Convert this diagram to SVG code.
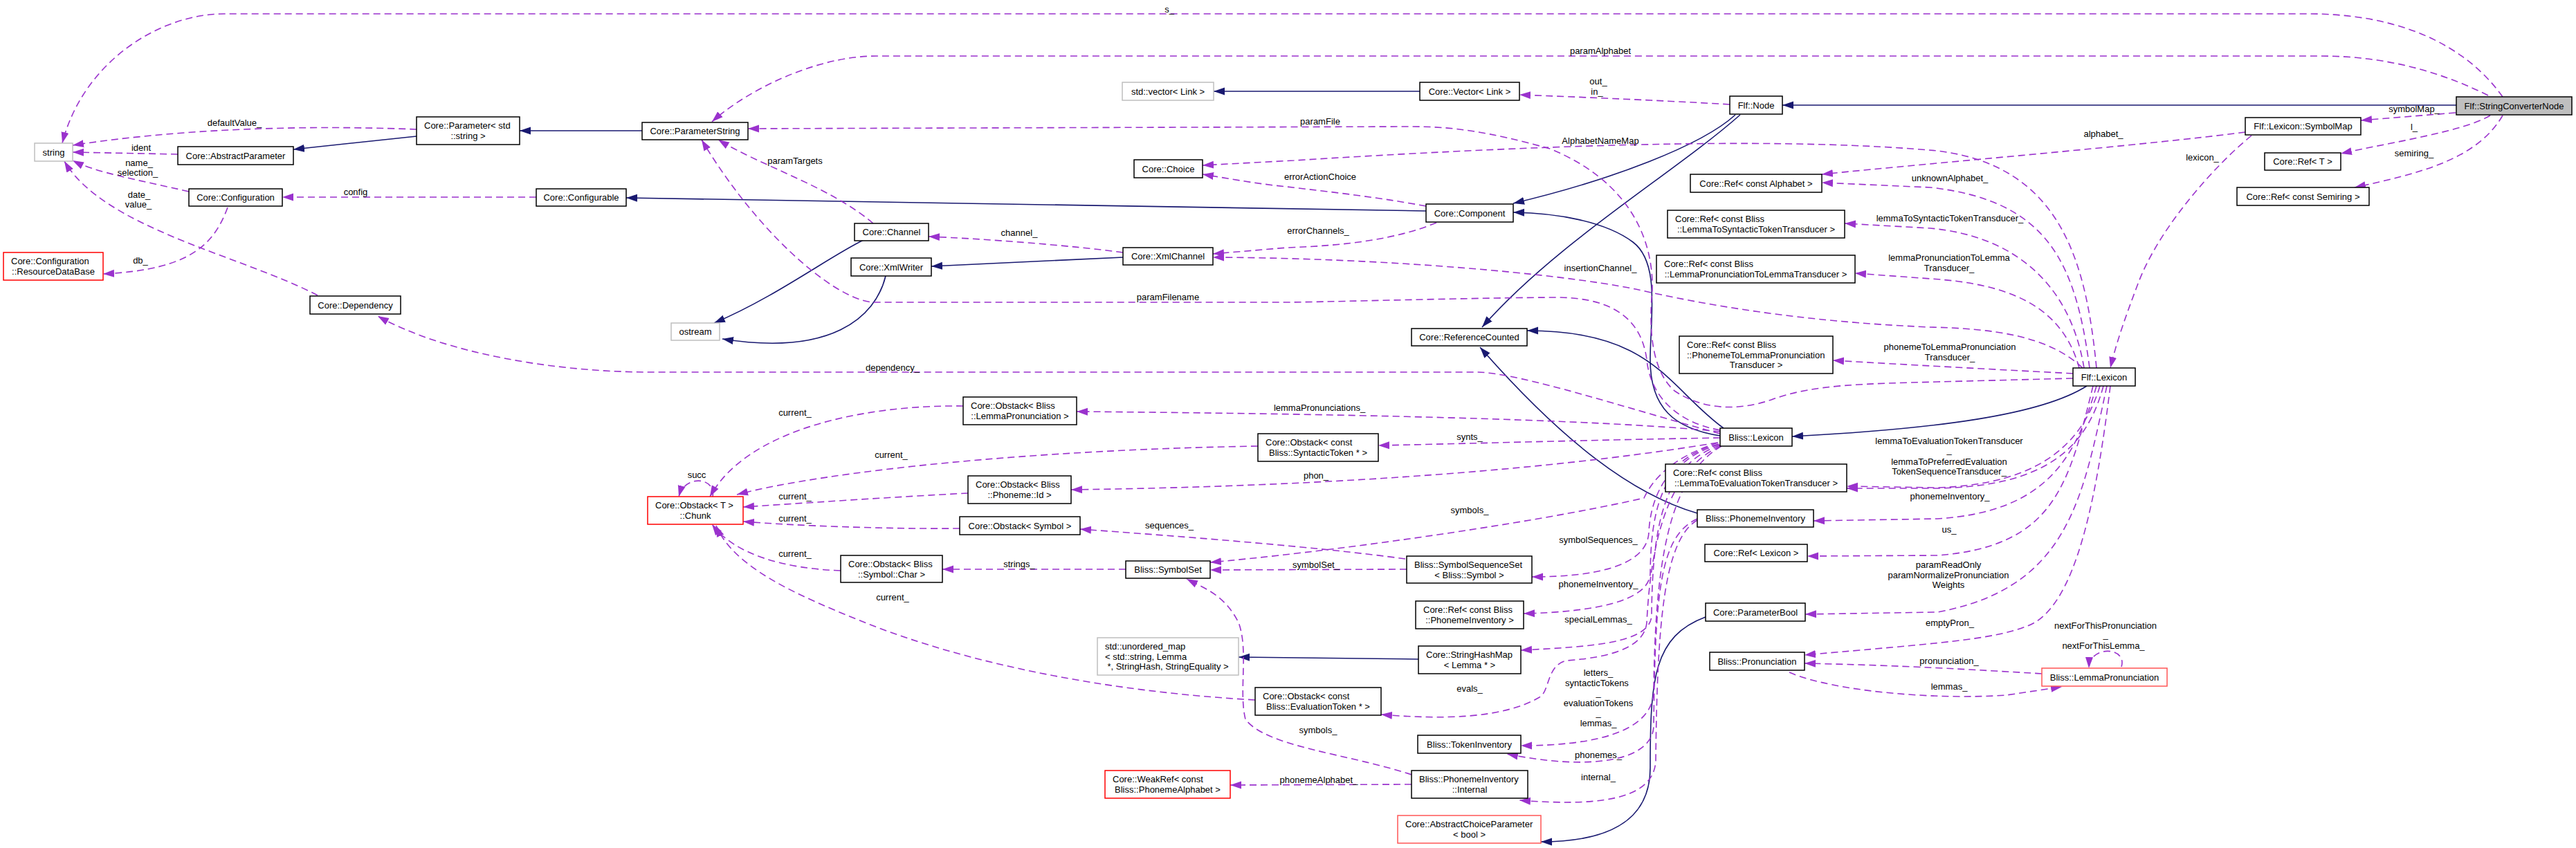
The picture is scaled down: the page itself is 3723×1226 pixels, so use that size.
<svg xmlns="http://www.w3.org/2000/svg" width="3723" height="1226" viewBox="0 0 3723 1226">
<style>
text{font-family:"Liberation Sans",Arial,sans-serif;font-size:13px;fill:#000}
.c{text-anchor:middle}
.nd rect{fill:#fff;stroke:#000;stroke-width:1.5}
.ext rect{stroke:#bfbfbf}
.red rect{stroke:#ff0000}
.red2 rect{stroke:#ff5555}
.cur rect{fill:#bfbfbf}
.e{fill:none;stroke:#9a32cd;stroke-width:1.6;stroke-dasharray:10,6;marker-end:url(#ap)}
.i{fill:none;stroke:#191970;stroke-width:1.6;marker-end:url(#an)}
</style>
<defs>
<marker id="ap" markerUnits="userSpaceOnUse" markerWidth="16" markerHeight="12" refX="16" refY="6" orient="auto" viewBox="0 0 16 12"><path d="M0,0.5 L16,6 L0,11.5 z" fill="#9a32cd"/></marker>
<marker id="an" markerUnits="userSpaceOnUse" markerWidth="16" markerHeight="12" refX="16" refY="6" orient="auto" viewBox="0 0 16 12"><path d="M0,0.5 L16,6 L0,11.5 z" fill="#191970"/></marker>
</defs>
<rect width="3723" height="1226" fill="#fff"/>
<g id="edges">
<!-- inheritance -->
<path class="i" d="M928,189 L751,189"/>
<path class="i" d="M602,197 L424,216"/>
<path class="i" d="M2061,305 L905,286"/>
<path class="i" d="M2052,132 L1754,132"/>
<path class="i" d="M1623,372 L1346,385"/>
<path class="i" d="M1248,347 C1200,370 1120,430 1032,467"/>
<path class="i" d="M1280,399 C1265,460 1200,515 1044,490"/>
<path class="i" d="M3550,152 L2576,152"/>
<path class="i" d="M2508,166 C2460,210 2330,260 2187,294"/>
<path class="i" d="M2515,166 C2420,250 2250,350 2142,473"/>
<path class="i" d="M2486,630 C2420,620 2385,590 2385,520 C2385,460 2400,380 2360,350 C2320,320 2250,308 2187,307"/>
<path class="i" d="M2491,619 C2410,560 2390,478 2207,478"/>
<path class="i" d="M2453,742 C2360,715 2260,640 2139,502"/>
<path class="i" d="M3016,558 C2950,600 2800,620 2590,631"/>
<path class="i" d="M2050,953 L1790,950"/>
<path class="i" d="M2465,892 C2390,920 2385,980 2385,1110 C2385,1190 2320,1217 2227,1217"/>
<!-- usage -->
<path class="e" d="M3617,140 C3560,60 3460,20 3337,20 L324,20 C230,20 120,90 90,207"/>
<path class="e" d="M3596,138 C3520,100 3440,81 3355,81 L1266,81 C1180,81 1080,130 1029,176"/>
<path class="e" d="M3549,163 L3412,174"/>
<path class="e" d="M3599,167 C3560,190 3460,205 3383,222"/>
<path class="e" d="M3617,167 C3580,230 3500,250 3403,271"/>
<path class="e" d="M3254,196 C3200,240 3120,330 3090,410 C3075,450 3060,490 3050,532"/>
<path class="e" d="M3245,191 C3100,210 2800,235 2633,252"/>
<path class="e" d="M3020,532 C3000,380 2960,290 2790,271 L2633,264"/>
<path class="e" d="M3030,532 C3015,380 2980,240 2800,218 C2600,200 2300,205 1870,232 L1738,239"/>
<path class="e" d="M3012,532 C2990,400 2900,340 2790,330 L2666,323"/>
<path class="e" d="M3005,532 C2980,440 2900,410 2790,403 L2681,395"/>
<path class="e" d="M2996,540 C2900,535 2750,527 2649,521"/>
<path class="e" d="M3010,532 C2960,485 2880,475 2790,473 C2600,465 2460,440 2364,418 C2250,395 2000,373 1753,372"/>
<path class="e" d="M2076,322 C2020,345 1950,355 1860,358 L1753,367"/>
<path class="e" d="M2061,298 C1980,283 1900,275 1860,270 C1810,265 1770,257 1738,252"/>
<path class="e" d="M2996,547 L2800,552 C2700,555 2620,555 2560,578 C2510,595 2460,592 2420,565 C2380,530 2385,450 2388,420 C2390,340 2350,260 2240,215 C2150,190 2100,183 2040,183 L1081,186"/>
<path class="e" d="M1262,323 C1200,270 1100,240 1038,202"/>
<path class="e" d="M2486,622 C2420,610 2385,570 2380,520 C2372,460 2330,432 2256,430 C2150,430 1900,437 1860,437 L1260,437 C1200,430 1090,330 1014,202"/>
<path class="e" d="M2486,627 C2350,590 2200,540 2136,538 L940,538 C800,538 640,510 546,457"/>
<path class="e" d="M459,427 C350,370 150,330 93,233"/>
<path class="e" d="M273,277 C200,260 140,250 105,232"/>
<path class="e" d="M257,223 L105,220"/>
<path class="e" d="M602,187 C500,183 300,180 105,210"/>
<path class="e" d="M329,300 C310,350 280,390 149,396"/>
<path class="e" d="M775,285 L408,285"/>
<path class="e" d="M1623,365 C1550,355 1420,345 1342,342"/>
<path class="e" d="M2500,151 C2400,145 2250,139 2196,137"/>
<path class="e" d="M2486,624 C2300,605 1900,598 1556,595"/>
<path class="e" d="M2486,633 C2300,636 2100,642 1992,644"/>
<path class="e" d="M2482,640 C2300,670 2000,702 1548,708"/>
<path class="e" d="M1392,587 C1250,585 1080,620 1026,718"/>
<path class="e" d="M1818,645 C1500,650 1200,680 1065,715"/>
<path class="e" d="M1399,713 C1300,718 1150,728 1074,733"/>
<path class="e" d="M1387,764 C1280,765 1150,760 1074,754"/>
<path class="e" d="M1215,825 C1130,822 1060,800 1029,758"/>
<path class="e" d="M1814,1012 C1600,1000 1400,960 1250,900 C1150,860 1060,820 1035,760"/>
<path class="e" d="M1030,718 C1035,690 990,685 981,718"/>
<path class="e" d="M2031,808 C1900,790 1700,775 1561,765"/>
<path class="e" d="M1627,823 L1362,823"/>
<path class="e" d="M2483,640 C2420,660 2390,690 2376,720 C2200,760 1900,800 1749,813"/>
<path class="e" d="M2033,823 L1749,824"/>
<path class="e" d="M2484,642 C2410,660 2385,720 2383,770 C2380,820 2300,834 2214,834"/>
<path class="e" d="M2485,643 C2400,665 2386,740 2385,830 C2382,870 2300,885 2202,887"/>
<path class="e" d="M2486,644 C2405,670 2388,760 2387,890 C2385,930 2300,935 2198,940"/>
<path class="e" d="M2487,645 C2405,680 2385,800 2380,900 C2376,945 2300,952 2265,955 C2235,960 2240,1000 2225,1008 C2170,1040 2080,1040 1996,1033"/>
<path class="e" d="M2488,645 C2410,690 2392,820 2390,1000 C2388,1060 2300,1078 2198,1078"/>
<path class="e" d="M2453,750 C2400,775 2392,850 2390,1050 C2388,1100 2300,1115 2178,1090"/>
<path class="e" d="M2453,752 C2405,780 2395,900 2393,1100 C2390,1160 2300,1165 2196,1157"/>
<path class="e" d="M2040,1120 C1950,1090 1830,1080 1800,1040 C1790,1000 1805,940 1790,900 C1770,860 1740,850 1715,837"/>
<path class="e" d="M2040,1134 L1778,1135"/>
<path class="e" d="M3035,558 C3010,640 2950,700 2800,705 L2669,703"/>
<path class="e" d="M3040,558 C3015,650 2955,703 2800,706 L2669,706"/>
<path class="e" d="M3030,558 C3000,660 2960,740 2800,750 L2621,753"/>
<path class="e" d="M3025,558 C2990,700 2970,790 2800,803 L2612,804"/>
<path class="e" d="M3045,558 C3010,720 2990,850 2800,885 L2609,888"/>
<path class="e" d="M3050,558 C3030,720 3000,880 2930,905 C2880,925 2800,930 2608,947"/>
<path class="e" d="M2951,974 C2850,968 2750,962 2608,959"/>
<path class="e" d="M2586,972 C2650,1000 2800,1012 2900,1005 L2980,993"/>
<path class="e" d="M3066,964 C3075,935 3020,932 3019,966"/>
</g>
<g id="edge-labels">
<text class="c" x="1690" y="18">s_</text>
<text class="c" x="2313" y="78">paramAlphabet</text>
<text class="c" x="3489" y="162">symbolMap_</text>
<text class="c" x="3489" y="188">l_</text>
<text class="c" x="3489" y="226">semiring_</text>
<text class="c" x="3183" y="232">lexicon_</text>
<text class="c" x="3040" y="198">alphabet_</text>
<text class="c" x="2818" y="262">unknownAlphabet_</text>
<text class="c" x="2313" y="208">AlphabetNameMap</text>
<text class="c" x="2818" y="320">lemmaToSyntacticTokenTransducer_</text>
<text class="c" x="2817" y="377">lemmaPronunciationToLemma</text>
<text class="c" x="2817" y="392">Transducer_</text>
<text class="c" x="2818" y="506">phonemeToLemmaPronunciation</text>
<text class="c" x="2818" y="521">Transducer_</text>
<text class="c" x="2313" y="392">insertionChannel_</text>
<text class="c" x="1905" y="338">errorChannels_</text>
<text class="c" x="1908" y="260">errorActionChoice</text>
<text class="c" x="1908" y="180">paramFile</text>
<text class="c" x="1149" y="237">paramTargets</text>
<text class="c" x="1688" y="434">paramFilename</text>
<text class="c" x="1290" y="536">dependency_</text>
<text class="c" x="201" y="286">date_</text>
<text class="c" x="200" y="300">value_</text>
<text class="c" x="201" y="240">name_</text>
<text class="c" x="199" y="254">selection_</text>
<text class="c" x="204" y="218">ident</text>
<text class="c" x="339" y="182">defaultValue_</text>
<text class="c" x="203" y="381">db_</text>
<text class="c" x="514" y="282">config</text>
<text class="c" x="1473" y="341">channel_</text>
<text class="c" x="2310" y="122">out_</text>
<text class="c" x="2308" y="137">in_</text>
<text class="c" x="1907" y="594">lemmaPronunciations_</text>
<text class="c" x="2124" y="636">synts_</text>
<text class="c" x="1902" y="692">phon_</text>
<text class="c" x="1149" y="601">current_</text>
<text class="c" x="1288" y="662">current_</text>
<text class="c" x="1149" y="722">current_</text>
<text class="c" x="1149" y="754">current_</text>
<text class="c" x="1149" y="805">current_</text>
<text class="c" x="1290" y="868">current_</text>
<text class="c" x="1007" y="691">succ</text>
<text class="c" x="1690" y="764">sequences_</text>
<text class="c" x="1473" y="820">strings_</text>
<text class="c" x="2124" y="742">symbols_</text>
<text class="c" x="1902" y="821">symbolSet_</text>
<text class="c" x="2310" y="785">symbolSequences_</text>
<text class="c" x="2310" y="849">phonemeInventory_</text>
<text class="c" x="2310" y="900">specialLemmas_</text>
<text class="c" x="2124" y="1000">evals_</text>
<text class="c" x="2310" y="977">letters_</text>
<text class="c" x="2308" y="992">syntacticTokens</text>
<text class="c" x="2310" y="1006">_</text>
<text class="c" x="2310" y="1021">evaluationTokens</text>
<text class="c" x="2310" y="1035">_</text>
<text class="c" x="2310" y="1050">lemmas_</text>
<text class="c" x="2310" y="1096">phonemes_</text>
<text class="c" x="2310" y="1128">internal_</text>
<text class="c" x="1905" y="1060">symbols_</text>
<text class="c" x="1906" y="1132">phonemeAlphabet_</text>
<text class="c" x="2817" y="642">lemmaToEvaluationTokenTransducer</text>
<text class="c" x="2817" y="655">_</text>
<text class="c" x="2817" y="672">lemmaToPreferredEvaluation</text>
<text class="c" x="2817" y="686">TokenSequenceTransducer_</text>
<text class="c" x="2818" y="722">phonemeInventory_</text>
<text class="c" x="2817" y="770">us_</text>
<text class="c" x="2816" y="821">paramReadOnly</text>
<text class="c" x="2816" y="836">paramNormalizePronunciation</text>
<text class="c" x="2816" y="850">Weights</text>
<text class="c" x="2818" y="905">emptyPron_</text>
<text class="c" x="2817" y="960">pronunciation_</text>
<text class="c" x="2817" y="997">lemmas_</text>
<text class="c" x="3043" y="909">nextForThisPronunciation</text>
<text class="c" x="3043" y="922">_</text>
<text class="c" x="3040" y="938">nextForThisLemma_</text>
</g>
<g id="n_string" class="nd ext"><rect x="50" y="207" width="55" height="26"/><text class="c" x="77.5" y="224.5">string</text></g>
<g id="n_paramstd" class="nd"><rect x="602" y="169" width="149" height="40"/><text x="613" y="186">Core::Parameter&lt; std</text><text class="c" x="676.5" y="201">::string &gt;</text></g>
<g id="n_abstractparam" class="nd"><rect x="257" y="212" width="167" height="26"/><text class="c" x="340.5" y="229.5">Core::AbstractParameter</text></g>
<g id="n_configuration" class="nd"><rect x="273" y="273" width="135" height="25"/><text class="c" x="340.5" y="290">Core::Configuration</text></g>
<g id="n_configurable" class="nd"><rect x="775" y="273" width="130" height="25"/><text class="c" x="840" y="290">Core::Configurable</text></g>
<g id="n_resdb" class="nd red"><rect x="5" y="365" width="144" height="40"/><text x="16" y="382">Core::Configuration</text><text class="c" x="77" y="397">::ResourceDataBase</text></g>
<g id="n_dependency" class="nd"><rect x="448" y="428" width="131" height="26"/><text class="c" x="513.5" y="445.5">Core::Dependency</text></g>
<g id="n_paramstring" class="nd"><rect x="928" y="177" width="153" height="25"/><text class="c" x="1004.5" y="194">Core::ParameterString</text></g>
<g id="n_stdvector" class="nd ext"><rect x="1622" y="119" width="132" height="26"/><text class="c" x="1688" y="136.5">std::vector&lt; Link &gt;</text></g>
<g id="n_choice" class="nd"><rect x="1639" y="231" width="99" height="26"/><text class="c" x="1688.5" y="248.5">Core::Choice</text></g>
<g id="n_channel" class="nd"><rect x="1235" y="323" width="107" height="25"/><text class="c" x="1288.5" y="340">Core::Channel</text></g>
<g id="n_xmlwriter" class="nd"><rect x="1230" y="373" width="116" height="26"/><text class="c" x="1288" y="390.5">Core::XmlWriter</text></g>
<g id="n_xmlchannel" class="nd"><rect x="1623" y="358" width="130" height="25"/><text class="c" x="1688" y="375">Core::XmlChannel</text></g>
<g id="n_ostream" class="nd ext"><rect x="970" y="467" width="70" height="25"/><text class="c" x="1005" y="484">ostream</text></g>
<g id="n_corevector" class="nd"><rect x="2052" y="119" width="144" height="26"/><text class="c" x="2124" y="136.5">Core::Vector&lt; Link &gt;</text></g>
<g id="n_flfnode" class="nd"><rect x="2500" y="139" width="76" height="26"/><text class="c" x="2538" y="156.5">Flf::Node</text></g>
<g id="n_component" class="nd"><rect x="2061" y="295" width="126" height="26"/><text class="c" x="2124" y="312.5">Core::Component</text></g>
<g id="n_refalphabet" class="nd"><rect x="2443" y="252" width="190" height="26"/><text class="c" x="2538" y="269.5">Core::Ref&lt; const Alphabet &gt;</text></g>
<g id="n_refl2s" class="nd"><rect x="2410" y="304" width="256" height="40"/><text x="2421" y="321">Core::Ref&lt; const Bliss</text><text class="c" x="2538" y="336">::LemmaToSyntacticTokenTransducer &gt;</text></g>
<g id="n_reflp2l" class="nd"><rect x="2394" y="369" width="287" height="40"/><text x="2405" y="386">Core::Ref&lt; const Bliss</text><text class="c" x="2537.5" y="401">::LemmaPronunciationToLemmaTransducer &gt;</text></g>
<g id="n_scn" class="nd cur"><rect x="3550" y="140" width="167" height="26"/><text class="c" x="3633.5" y="157.5">Flf::StringConverterNode</text></g>
<g id="n_symbolmap" class="nd"><rect x="3245" y="170" width="167" height="25"/><text class="c" x="3328.5" y="187">Flf::Lexicon::SymbolMap</text></g>
<g id="n_reft" class="nd"><rect x="3273" y="221" width="110" height="25"/><text class="c" x="3328" y="238">Core::Ref&lt; T &gt;</text></g>
<g id="n_refsemiring" class="nd"><rect x="3233" y="271" width="191" height="26"/><text class="c" x="3328.5" y="288.5">Core::Ref&lt; const Semiring &gt;</text></g>
<g id="n_refcounted" class="nd"><rect x="2040" y="475" width="167" height="25"/><text class="c" x="2123.5" y="492">Core::ReferenceCounted</text></g>
<g id="n_refp2lp" class="nd"><rect x="2427" y="486" width="222" height="54"/><text x="2438" y="503">Core::Ref&lt; const Bliss</text><text x="2438" y="518">::PhonemeToLemmaPronunciation</text><text class="c" x="2538" y="532">Transducer &gt;</text></g>
<g id="n_blisslexicon" class="nd"><rect x="2486" y="619" width="104" height="26"/><text class="c" x="2538" y="636.5">Bliss::Lexicon</text></g>
<g id="n_refl2e" class="nd"><rect x="2407" y="671" width="262" height="40"/><text x="2418" y="688">Core::Ref&lt; const Bliss</text><text class="c" x="2538" y="703">::LemmaToEvaluationTokenTransducer &gt;</text></g>
<g id="n_phoneminv" class="nd"><rect x="2453" y="737" width="168" height="25"/><text class="c" x="2537" y="754">Bliss::PhonemeInventory</text></g>
<g id="n_reflexicon" class="nd"><rect x="2464" y="787" width="148" height="25"/><text class="c" x="2538" y="804">Core::Ref&lt; Lexicon &gt;</text></g>
<g id="n_symseqset" class="nd"><rect x="2033" y="804" width="181" height="39"/><text x="2044" y="821">Bliss::SymbolSequenceSet</text><text class="c" x="2123.5" y="836">&lt; Bliss::Symbol &gt;</text></g>
<g id="n_obsynt" class="nd"><rect x="1818" y="627" width="174" height="40"/><text x="1829" y="644">Core::Obstack&lt; const</text><text class="c" x="1905" y="659">Bliss::SyntacticToken * &gt;</text></g>
<g id="n_flflexicon" class="nd"><rect x="2996" y="532" width="90" height="26"/><text class="c" x="3041" y="549.5">Flf::Lexicon</text></g>
<g id="n_oblp" class="nd"><rect x="1392" y="574" width="164" height="40"/><text x="1403" y="591">Core::Obstack&lt; Bliss</text><text class="c" x="1474" y="606">::LemmaPronunciation &gt;</text></g>
<g id="n_obphon" class="nd"><rect x="1399" y="688" width="149" height="40"/><text x="1410" y="705">Core::Obstack&lt; Bliss</text><text class="c" x="1473.5" y="720">::Phoneme::Id &gt;</text></g>
<g id="n_chunk" class="nd red"><rect x="936" y="718" width="138" height="40"/><text x="947" y="735">Core::Obstack&lt; T &gt;</text><text class="c" x="1005" y="750">::Chunk</text></g>
<g id="n_obsym" class="nd"><rect x="1387" y="747" width="174" height="26"/><text class="c" x="1474" y="764.5">Core::Obstack&lt; Symbol &gt;</text></g>
<g id="n_obchar" class="nd"><rect x="1215" y="803" width="147" height="39"/><text x="1226" y="820">Core::Obstack&lt; Bliss</text><text class="c" x="1288.5" y="835">::Symbol::Char &gt;</text></g>
<g id="n_symbolset" class="nd"><rect x="1627" y="811" width="122" height="25"/><text class="c" x="1688" y="828">Bliss::SymbolSet</text></g>
<g id="n_refphinv" class="nd"><rect x="2046" y="869" width="156" height="40"/><text x="2057" y="886">Core::Ref&lt; const Bliss</text><text class="c" x="2124" y="901">::PhonemeInventory &gt;</text></g>
<g id="n_strhash" class="nd"><rect x="2050" y="934" width="148" height="40"/><text x="2061" y="951">Core::StringHashMap</text><text class="c" x="2124" y="966">&lt; Lemma * &gt;</text></g>
<g id="n_obeval" class="nd"><rect x="1814" y="994" width="182" height="40"/><text x="1825" y="1011">Core::Obstack&lt; const</text><text class="c" x="1905" y="1026">Bliss::EvaluationToken * &gt;</text></g>
<g id="n_tokinv" class="nd"><rect x="2049" y="1063" width="149" height="26"/><text class="c" x="2123.5" y="1080.5">Bliss::TokenInventory</text></g>
<g id="n_phinternal" class="nd"><rect x="2040" y="1114" width="168" height="40"/><text x="2051" y="1131">Bliss::PhonemeInventory</text><text class="c" x="2124" y="1146">::Internal</text></g>
<g id="n_abschoice" class="nd red2"><rect x="2020" y="1179" width="207" height="40"/><text x="2031" y="1196">Core::AbstractChoiceParameter</text><text class="c" x="2123.5" y="1211">&lt; bool &gt;</text></g>
<g id="n_umap" class="nd ext"><rect x="1586" y="922" width="204" height="54"/><text x="1597" y="939">std::unordered_map</text><text x="1597" y="954">&lt; std::string, Lemma</text><text class="c" x="1688" y="968">*, StringHash, StringEquality &gt;</text></g>
<g id="n_weakref" class="nd red"><rect x="1597" y="1114" width="181" height="40"/><text x="1608" y="1131">Core::WeakRef&lt; const</text><text class="c" x="1687.5" y="1146">Bliss::PhonemeAlphabet &gt;</text></g>
<g id="n_parambool" class="nd"><rect x="2465" y="872" width="144" height="26"/><text class="c" x="2537" y="889.5">Core::ParameterBool</text></g>
<g id="n_pronunciation" class="nd"><rect x="2471" y="943" width="137" height="26"/><text class="c" x="2539.5" y="960.5">Bliss::Pronunciation</text></g>
<g id="n_lemmapron" class="nd red2"><rect x="2951" y="966" width="181" height="26"/><text class="c" x="3041.5" y="983.5">Bliss::LemmaPronunciation</text></g>
</svg>
